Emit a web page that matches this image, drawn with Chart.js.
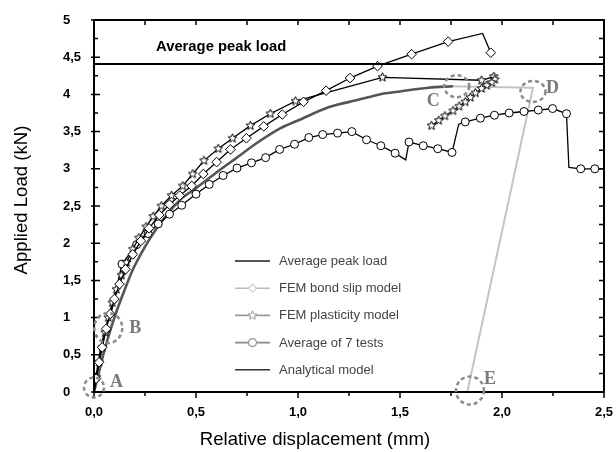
<!DOCTYPE html>
<html>
<head>
<meta charset="utf-8">
<script src="https://cdn.jsdelivr.net/npm/chart.js@4"></script>
<style>
  html, body { margin: 0; padding: 0; background: #fff; }
  #wrap { width: 616px; height: 452px; }
</style>
</head>
<body>
<div id="wrap"><canvas id="loadChart" width="616" height="452"></canvas></div>
<script>
// values
const peakLoad = 4.41;

const bondX = [0, 0.01, 0.025, 0.04, 0.06, 0.08, 0.1, 0.125, 0.155, 0.19, 0.23, 0.27, 0.32, 0.37, 0.42, 0.479, 0.536, 0.601, 0.669, 0.747, 0.832, 0.923, 1.027, 1.138, 1.255, 1.39, 1.557, 1.736, 1.905, 1.945];
const bondY = [0, 0.18, 0.4, 0.6, 0.85, 1.05, 1.25, 1.45, 1.65, 1.85, 2.03, 2.2, 2.38, 2.52, 2.64, 2.77, 2.93, 3.09, 3.26, 3.41, 3.57, 3.73, 3.9, 4.05, 4.22, 4.38, 4.54, 4.71, 4.82, 4.56];

const plastX = [0, 0.012, 0.025, 0.04, 0.055, 0.07, 0.09, 0.11, 0.135, 0.16, 0.19, 0.22, 0.255, 0.29, 0.33, 0.38, 0.435, 0.484, 0.539, 0.609, 0.679, 0.767, 0.864, 0.988, 1.414, 1.9, 1.96, 1.965, 1.95, 1.925, 1.9, 1.87, 1.845, 1.82, 1.79, 1.76, 1.72, 1.69, 1.655];
const plastY = [0, 0.2, 0.4, 0.6, 0.8, 1.0, 1.2, 1.38, 1.57, 1.74, 1.92, 2.07, 2.22, 2.36, 2.5, 2.64, 2.77, 2.93, 3.11, 3.27, 3.41, 3.58, 3.74, 3.91, 4.23, 4.19, 4.24, 4.2, 4.16, 4.12, 4.08, 4.02, 3.96, 3.9, 3.84, 3.78, 3.71, 3.65, 3.58];

const testsX = [0, 0.015, 0.03, 0.05, 0.07, 0.087, 0.137, 0.209, 0.265, 0.315, 0.37, 0.43, 0.5, 0.565, 0.633, 0.701, 0.772, 0.841, 0.91, 0.983, 1.053, 1.121, 1.194, 1.264, 1.336, 1.406, 1.476, 1.528, 1.544, 1.614, 1.685, 1.755, 1.788, 1.82, 1.894, 1.963, 2.035, 2.108, 2.178, 2.248, 2.316, 2.328, 2.386, 2.455, 2.5];
const testsY = [0, 0.3, 0.55, 0.8, 0.98, 1.1, 1.72, 1.98, 2.13, 2.26, 2.39, 2.51, 2.66, 2.79, 2.91, 3.01, 3.08, 3.15, 3.26, 3.33, 3.42, 3.46, 3.48, 3.5, 3.39, 3.31, 3.21, 3.12, 3.36, 3.31, 3.27, 3.22, 3.6, 3.63, 3.68, 3.72, 3.75, 3.77, 3.79, 3.81, 3.74, 3.02, 3.0, 3.0, 3.0];
const testsBare = [0, 1, 2, 3, 4, 5, 27, 32, 41, 44];   // corners drawn without a circle

const anaX = [0, 0.02, 0.05, 0.1, 0.15, 0.2, 0.3, 0.42, 0.5, 0.6, 0.7, 0.8, 0.91, 1.0, 1.153, 1.3, 1.4, 1.5, 1.64, 1.76];
const anaY = [0, 0.22, 0.55, 1.0, 1.37, 1.7, 2.17, 2.58, 2.74, 2.95, 3.15, 3.35, 3.54, 3.65, 3.83, 3.93, 4.0, 4.04, 4.09, 4.11];

// softening branch C -> D -> E
const softX = [1.74, 2.152, 1.83];
const softY = [4.11, 4.09, 0];

const marks = ["A", "B", "C", "D", "E"];
const markX = [0.0, 0.07, 1.778, 2.152, 1.843];
const markY = [0.06, 0.86, 4.11, 4.04, 0.02];

const xTicks = [0, 0.5, 1.0, 1.5, 2.0, 2.5];
const yTicks = [0, 0.5, 1, 1.5, 2, 2.5, 3, 3.5, 4, 4.5, 5];

const legendLabels = ["Average peak load", "FEM bond slip model", "FEM plasticity model", "Average of 7 tests", "Analytical model"];

const FONT = "'Liberation Sans', Arial, sans-serif";
const pts = (xs, ys) => xs.map((x, i) => ({ x: x, y: ys[i] }));

function starImage(r, stroke, fill) {
  const c = document.createElement("canvas");
  const s = Math.ceil(r * 2 + 3);
  c.width = c.height = s;
  const g = c.getContext("2d");
  g.beginPath();
  for (let i = 0; i < 10; i++) {
    const a = -Math.PI / 2 + i * Math.PI / 5;
    const rr = i % 2 ? r * 0.45 : r;
    const px = s / 2 + rr * Math.cos(a), py = s / 2 + rr * Math.sin(a);
    i ? g.lineTo(px, py) : g.moveTo(px, py);
  }
  g.closePath();
  g.fillStyle = fill; g.fill();
  g.strokeStyle = stroke; g.lineWidth = 1; g.stroke();
  return c;
}
const star = starImage(4.6, "#000", "#fff");
const starGrey = starImage(4.6, "#999", "#fff");

const frame = {
  id: "frame",
  afterDraw(chart) {
    const ctx = chart.ctx;
    const xs = chart.scales.x, ys = chart.scales.y;
    // box taken from the scales themselves
    const L = xs.getPixelForValue(xs.min), R = xs.getPixelForValue(xs.max);
    const T = ys.getPixelForValue(ys.max), B = ys.getPixelForValue(ys.min);
    ctx.save();
    ctx.strokeStyle = "#000";
    ctx.lineWidth = 2;
    ctx.strokeRect(L, T, R - L, B - T);
    ctx.lineWidth = 1.5;
    ctx.beginPath();
    for (let v = 0; v <= 2.5001; v += 0.25) {
      const px = xs.getPixelForValue(v);
      const major = Math.abs(v / 0.5 - Math.round(v / 0.5)) < 1e-6;
      ctx.moveTo(px, B); ctx.lineTo(px, B + (major ? 6 : 4));
      ctx.moveTo(px, T); ctx.lineTo(px, T + 5);
    }
    for (let v = 0; v <= 5.0001; v += 0.25) {
      const py = ys.getPixelForValue(v);
      const major = Math.abs(v / 0.5 - Math.round(v / 0.5)) < 1e-6;
      ctx.moveTo(L - (major ? 3 : 0), py); ctx.lineTo(L + (major ? 6 : 4), py);
      ctx.moveTo(R, py); ctx.lineTo(R - 5, py);
    }
    ctx.stroke();

    // axis titles
    ctx.fillStyle = "#000";
    ctx.font = "18.6px " + FONT;
    ctx.textAlign = "center";
    ctx.textBaseline = "middle";
    ctx.fillText("Relative displacement (mm)", 315, 440);
    ctx.save();
    ctx.translate(22, 200);
    ctx.rotate(-Math.PI / 2);
    ctx.fillText("Applied Load (kN)", 0, 0);
    ctx.restore();

    // peak load label
    ctx.font = "bold 14.8px " + FONT;
    ctx.textAlign = "left";
    ctx.fillText("Average peak load", xs.getPixelForValue(0.304), ys.getPixelForValue(4.64));

    // dashed markers A..E
    const rx = [10, 14, 12.5, 12.5, 14], ry = [10, 15, 11, 10.5, 14];
    const ox = [22, 27, -24, 19, 20], oy = [-5, 0, 15, -3, -11];
    ctx.setLineDash([4, 3]);
    ctx.strokeStyle = "#8a8a8a";
    ctx.lineWidth = 2.5;
    ctx.font = "bold 18px 'Liberation Serif', 'DejaVu Serif', serif";
    ctx.fillStyle = "#7a7a7a";
    marks.forEach((m, i) => {
      const cx = xs.getPixelForValue(markX[i]), cy = ys.getPixelForValue(markY[i]);
      ctx.beginPath();
      ctx.ellipse(cx, cy, rx[i], ry[i], 0, 0, Math.PI * 2);
      ctx.stroke();
      ctx.fillText(m, cx + ox[i] - 6, cy + oy[i]);
    });
    ctx.setLineDash([]);

    // legend
    const lineCol = ["#555", "#bbb", "#999", "#888", "#333"];
    const styles = [null, "rectRot", starGrey, "circle", null];
    ctx.font = "13px " + FONT;
    legendLabels.forEach((t, i) => {
      const y = 261 + i * 27.2;
      ctx.strokeStyle = lineCol[i];
      ctx.lineWidth = i === 0 ? 2.2 : 1.6;
      ctx.beginPath(); ctx.moveTo(235, y); ctx.lineTo(270, y); ctx.stroke();
      if (styles[i]) {
        if (styles[i] instanceof HTMLCanvasElement) {
          ctx.drawImage(styles[i], 252.5 - styles[i].width / 2, y - styles[i].height / 2);
        } else {
          ctx.fillStyle = "#fff";
          ctx.lineWidth = 1;
          Chart.helpers.drawPoint(ctx, { pointStyle: styles[i], rotation: 0, radius: 4, borderWidth: 1 }, 252.5, y);
          ctx.fill(); ctx.stroke();
        }
      }
      ctx.fillStyle = "#444";
      ctx.fillText(t, 279, y + 0.5);
    });
    ctx.restore();
  }
};

new Chart(document.getElementById("loadChart"), {
  type: "scatter",
  data: {
    datasets: [
      { label: "Average peak load", data: [{ x: 0, y: peakLoad }, { x: 2.5, y: peakLoad }],
        showLine: true, borderColor: "#000", borderWidth: 2, pointRadius: 0 },
      { label: "FEM bond slip model", data: pts(bondX, bondY), showLine: true,
        borderColor: "#000", borderWidth: 1.3, pointStyle: "rectRot",
        pointRadius: (c) => (c.dataIndex === 0 || c.dataIndex === 28 ? 0 : 4.8),
        pointBackgroundColor: "#fff", pointBorderColor: "#000", pointBorderWidth: 1 },
      { label: "FEM plasticity model", data: pts(plastX, plastY), showLine: true,
        borderColor: "#000", borderWidth: 1.3, pointStyle: star,
        pointRadius: (c) => (c.dataIndex === 0 ? 0 : 4) },
      { label: "Average of 7 tests", data: pts(testsX, testsY), showLine: true,
        borderColor: "#000", borderWidth: 1.3, pointStyle: "circle",
        pointRadius: (c) => (testsBare.includes(c.dataIndex) ? 0 : 4),
        pointBackgroundColor: "#fff", pointBorderColor: "#000", pointBorderWidth: 1 },
      { label: "Analytical model", data: pts(anaX, anaY), showLine: true,
        borderColor: "#555", borderWidth: 2.6, pointRadius: 0, tension: 0.3 },
      { label: "Softening", data: pts(softX, softY), showLine: true,
        borderColor: "#c4c4c4", borderWidth: 2, pointRadius: 0 }
    ]
  },
  options: {
    responsive: false,
    maintainAspectRatio: false,
    animation: false,
    layout: { padding: { left: 63, top: 20, right: 12, bottom: 0 } },
    plugins: { legend: { display: false }, tooltip: { enabled: false } },
    scales: {
      x: {
        type: "linear", min: 0, max: 2.5,
        afterBuildTicks: (s) => { s.ticks = xTicks.map((v) => ({ value: v })); },
        afterFit: (s) => { s.height = 60; s.paddingLeft = 0; s.paddingRight = 0; },
        grid: { display: false, drawTicks: false }, border: { display: false },
        ticks: { padding: 13, color: "#000", font: { family: FONT, size: 13, weight: "bold" },
                 callback: (v) => v.toFixed(1).replace(".", ",") }
      },
      y: {
        type: "linear", min: 0, max: 5,
        afterBuildTicks: (s) => { s.ticks = yTicks.map((v) => ({ value: v })); },
        afterFit: (s) => { s.width = 31; s.paddingTop = 0; s.paddingBottom = 0; },
        grid: { display: false, drawTicks: false }, border: { display: false },
        ticks: { crossAlign: "far", color: "#000", font: { family: FONT, size: 13, weight: "bold" },
                 callback: (v) => String(v).replace(".", ",") }
      }
    }
  },
  plugins: [frame]
});
</script>
</body>
</html>
